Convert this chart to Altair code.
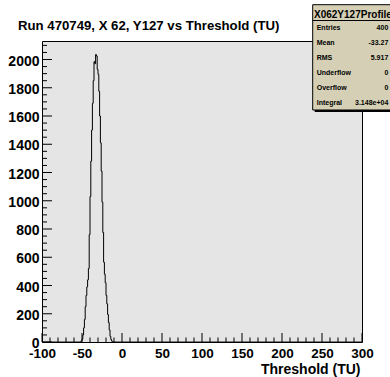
import altair as alt
import pandas as pd

TITLE = "Run 470749, X 62, Y127 vs Threshold (TU)"
X_TITLE = "Threshold (TU)"

# 1-TU bins over [-100, 300); counts start at FIRST_BIN, every other bin is empty
X_MIN, X_MAX = -100, 300
Y_MAX = 2131
FIRST_BIN = -52
counts = [2, 8, 20, 50, 100, 160, 250, 330, 390, 440,
          520, 760, 1030, 1280, 1500, 1690, 1850, 1985, 1970, 2035,
          2025, 1930, 1895, 1775, 1600, 1410, 1210, 990, 775, 565,
          480, 420, 330, 270, 195, 138, 85, 40, 18, 6, 2]

# statistics panel
stats_title = "X062Y127Profile"
stat_names = ["Entries", "Mean", "RMS", "Underflow", "Overflow", "Integral"]
stat_values = ["400", "-33.27", "5.917", "0", "0", "3.148e+04"]

# axis divisions
x_major = list(range(-100, 301, 50))
x_minor = [v for v in range(-100, 301, 10) if v % 50]
y_major = list(range(0, 2001, 200))
y_minor = [v for v in range(50, Y_MAX, 50) if v % 200]

W, H = 320, 301
FONT = "Liberation Sans"

edges = list(range(X_MIN, X_MAX + 1))
vals = []
for e in edges:
    i = e - FIRST_BIN
    vals.append(counts[i] if 0 <= i < len(counts) else 0)
hist = pd.DataFrame({"edge": edges, "count": vals})

x_scale = alt.Scale(domain=[X_MIN, X_MAX], nice=False, zero=False)
y_scale = alt.Scale(domain=[0, Y_MAX], nice=False)

x_axis = alt.Axis(values=x_major, ticks=False, tickSize=0, domain=False, grid=False,
                  labelFont=FONT, labelFontSize=13.5, labelFontWeight="bold",
                  labelColor="black", labelPadding=4, labelFlush=False,
                  labelOverlap=False, labelBound=False, labelSeparation=0,
                  labelExpr="'' + datum.value",
                  titleFont=FONT, titleFontSize=14, titleFontWeight="bold",
                  titleColor="black", titleAnchor="end", titleAlign="right",
                  titleX=318, titleY=31.5, titleBaseline="alphabetic")
y_axis = alt.Axis(values=y_major, ticks=False, tickSize=0, domain=False, grid=False,
                  labelFont=FONT, labelFontSize=14, labelFontWeight="bold",
                  labelColor="black", labelPadding=3, labelFlush=False,
                  labelOverlap=False, labelBound=False, labelSeparation=0,
                  labelOffset=1.5,
                  labelExpr="'' + datum.value", title=None)

X_ENC = dict(scale=x_scale, axis=x_axis, title=X_TITLE)
Y_ENC = dict(scale=y_scale, axis=y_axis, title=None)

line = alt.Chart(hist).mark_line(
    interpolate="step-after", color="black", strokeWidth=1
).encode(
    x=alt.X("edge:Q", **X_ENC),
    y=alt.Y("count:Q", **Y_ENC),
)

def x_ticks(values, length):
    return alt.Chart(pd.DataFrame({"edge": values})).mark_rule(
        color="black", strokeWidth=1
    ).encode(x=alt.X("edge:Q", **X_ENC), y=alt.value(H), y2=alt.value(H - length))

def y_ticks(values, length):
    return alt.Chart(pd.DataFrame({"count": values})).mark_rule(
        color="black", strokeWidth=1
    ).encode(y=alt.Y("count:Q", **Y_ENC), x=alt.value(0), x2=alt.value(length))

one = alt.Data(values=[{}])

# statistics box with drop shadow
box_l, box_r, box_t, box_b = 270.7, 360, -36.3, 69
shadow = alt.Chart(one).mark_rect(color="black").encode(
    x=alt.value(box_l + 2), x2=alt.value(box_r + 2),
    y=alt.value(box_t + 2), y2=alt.value(box_b + 2))
box = alt.Chart(one).mark_rect(fill="#d5d0b5", stroke="black", strokeWidth=1).encode(
    x=alt.value(box_l), x2=alt.value(box_r), y=alt.value(box_t), y2=alt.value(box_b))
sep = alt.Chart(one).mark_rule(color="black", strokeWidth=1).encode(
    x=alt.value(box_l), x2=alt.value(box_r), y=alt.value(-20.5))
head = alt.Chart(one).mark_text(
    font=FONT, fontSize=10, fontWeight="bold", align="left", baseline="middle",
    color="black"
).encode(x=alt.value(272), y=alt.value(-26.5), text=alt.value(stats_title))
names = alt.Chart(one).mark_text(
    font=FONT, fontSize=7, fontWeight="bold", align="left", baseline="alphabetic",
    lineBreak="\n", lineHeight=15, color="black"
).encode(x=alt.value(274.7), y=alt.value(-10.8), text=alt.value("\n".join(stat_names)))
values = alt.Chart(one).mark_text(
    font=FONT, fontSize=7, fontWeight="bold", align="right", baseline="alphabetic",
    lineBreak="\n", lineHeight=15, color="black"
).encode(x=alt.value(346.3), y=alt.value(-10.8), text=alt.value("\n".join(stat_values)))

title = alt.Chart(one).mark_text(
    font=FONT, fontSize=13.2, fontWeight="bold", align="left", baseline="alphabetic",
    color="black"
).encode(x=alt.value(-24), y=alt.value(-11.5), text=alt.value(TITLE))

chart = alt.layer(
    line,
    x_ticks(x_major, 9), x_ticks(x_minor, 4.5),
    y_ticks(y_major, 10), y_ticks(y_minor, 5),
    shadow, box, sep, head, names, values, title,
).properties(
    width=W, height=H,
    autosize=alt.AutoSizeParams(type="none"),
    padding={"left": 42, "top": 41, "right": 28, "bottom": 35},
    background="white",
).configure_view(
    fill="#e5e5e5", stroke="black", strokeWidth=1
).configure_axis(labelOverlap=False)

chart.save("out.html", embed_options={"renderer": "svg", "actions": False})
